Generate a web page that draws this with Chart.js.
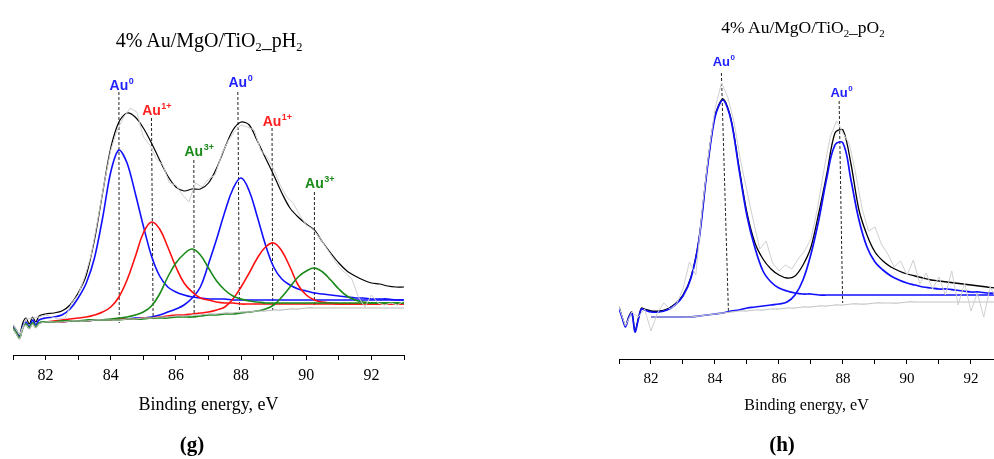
<!DOCTYPE html>
<html>
<head>
<meta charset="utf-8">
<title>Au 4f XPS</title>
<script src="https://cdn.jsdelivr.net/npm/chart.js@4.4.0/dist/chart.umd.min.js"></script>
<style>
    body {
        margin: 0;
        width: 994px;
        height: 459px;
        position: relative;
        overflow: hidden;
        background: #fff;
        font-family: "Liberation Serif", "Times New Roman", serif;
        color: #000;
    }
    canvas { position: absolute; top: 0; }
    #chartG { left: 0; }
    #chartH { left: 600px; }
    .title {
        position: absolute;
        white-space: nowrap;
        line-height: 1;
        transform: translateX(-50%);
    }
    .title sub { font-size: 0.62em; vertical-align: -0.35em; line-height: 0; }
    .tag {
        position: absolute;
        font-weight: bold;
        font-size: 21px;
        line-height: 1;
        transform: translateX(-50%);
    }
</style>
</head>
<body>
<canvas id="chartG" width="420" height="459"></canvas>
<canvas id="chartH" width="394" height="459"></canvas>

<div class="title" style="left:209px; top:30px; font-size:20px;">4% Au/MgO/TiO<sub>2</sub>_pH<sub>2</sub></div>
<div class="title" style="left:803px; top:19px; font-size:17.5px;">4% Au/MgO/TiO<sub>2</sub>_pO<sub>2</sub></div>
<div class="tag" style="left:192px; top:434px;">(g)</div>
<div class="tag" style="left:782px; top:434px;">(h)</div>

<script>
// energy grids (eV)
const energyWiggle = [81.0, 81.1, 81.2, 81.3, 81.4, 81.5, 81.6, 81.7, 81.8];
const energyFit = [82, 82.25, 82.5, 82.75, 83, 83.25, 83.5, 83.75, 84, 84.25, 84.5, 84.75,
    85, 85.25, 85.5, 85.75, 86, 86.25, 86.5, 86.75, 87, 87.25, 87.5, 87.75, 88, 88.25,
    88.5, 88.75, 89, 89.25, 89.5, 89.75, 90, 90.25, 90.5, 90.75, 91, 91.25, 91.5, 91.75,
    92, 92.25, 92.5, 92.75, 93];
const energyRaw = [81.0, 81.2, 81.4, 81.6, 81.8, 82.0, 82.2, 82.4, 82.6, 82.8, 83.0, 83.2,
    83.4, 83.6, 83.8, 84.0, 84.2, 84.4, 84.6, 84.8, 85.0, 85.2, 85.4, 85.6, 85.8, 86.0,
    86.2, 86.4, 86.6, 86.8, 87.0, 87.2, 87.4, 87.6, 87.8, 88.0, 88.2, 88.4, 88.6, 88.8,
    89.0, 89.2, 89.4, 89.6, 89.8, 90.0, 90.2, 90.4, 90.6, 90.8, 91.0, 91.2, 91.4, 91.6,
    91.8, 92.0, 92.2, 92.4, 92.6, 92.8, 93.0];

// (g) pH2 sample, intensity in arbitrary units
const gRaw = [30, 20, 36, 37, 38, 40, 38, 36, 37, 52, 60, 78, 100, 135, 172, 205, 225, 238,
    247, 243, 218, 210, 196, 190, 172, 170, 160, 153, 172, 168, 176, 180, 200, 214, 224, 230,
    228, 225, 205, 198, 186, 170, 158, 152, 140, 130, 126, 118, 108, 98, 88, 82, 76, 58, 48,
    60, 52, 50, 52, 50, 54];
const gEnvelopeWiggle = [30, 25, 20, 32, 37, 31, 38, 33, 39];
const gEnvelope = [41, 42, 44, 50, 62, 80, 115, 162, 207, 233, 242, 238, 227, 212, 195, 179,
    168, 164, 166, 166, 172, 187, 207, 225, 233, 230, 214, 197, 180, 162, 147, 138, 131, 125,
    113, 102, 92, 84, 79, 75, 72, 71, 69, 68, 68];
const gBackgroundWiggle = [26, 21, 16, 26, 30, 26, 31, 27, 31];
const gBackground = [33, 33, 33, 34, 34, 34, 35, 35, 35, 35, 36, 36, 37, 37, 38, 38, 39, 39,
    40, 40, 41, 41, 42, 42, 43, 43, 44, 44, 45, 45, 46, 46, 47, 47, 47, 47, 47, 47, 47, 47,
    47, 47, 47, 47, 47];
const gAu0aWiggle = [28, 23, 18, 29, 33, 28, 35, 30, 35];
const gAu0a = [37, 38, 40, 46, 57, 72, 97, 137, 183, 205, 192, 162, 129, 99, 79, 68, 63, 60,
    58, 57, 56, 56, 56, 55, 55, 55, 55, 55, 55, 55, 55, 55, 55, 55, 55, 55, 55, 55, 55, 55,
    55, 55, 55, 55, 55];
const gAu0b = [33, 33, 33, 34, 34, 34, 35, 35, 35, 36, 36, 37, 37, 38, 40, 43, 46, 50, 57, 68,
    91, 116, 143, 166, 177, 164, 138, 110, 88, 76, 70, 66, 64, 62, 61, 60, 59, 58, 57, 57,
    56, 56, 56, 55, 55];
const gAu1a = [33, 34, 35, 36, 37, 38, 40, 43, 48, 58, 75, 98, 122, 133, 126, 108, 88, 72, 63,
    57, 55, 53, 52, 52, 51, 51, 51, 51, 51, 51, 51, 51, 51, 51, 51, 51, 51, 51, 51, 51, 51,
    51, 51, 51, 51];
const gAu1b = [33, 33, 33, 34, 34, 34, 35, 35, 35, 36, 36, 36, 37, 37, 38, 39, 40, 40, 41, 42,
    43, 45, 48, 56, 68, 82, 97, 108, 112, 104, 88, 70, 60, 55, 53, 52, 51, 51, 51, 51, 51,
    51, 51, 51, 51];
const gAu3Wiggle = [27, 22, 17, 27, 31, 27, 32, 28, 32];
const gAu3a = [33, 33, 34, 34, 34, 35, 35, 35, 36, 37, 38, 40, 43, 49, 61, 78, 92, 101, 106,
    100, 87, 74, 65, 59, 56, 54, 53, 52, 52, 52, 52, 52, 52, 52, 52, 52, 52, 52, 52, 52, 52,
    52, 52, 52, 52];
const gAu3b = [33, 33, 34, 34, 34, 34, 35, 35, 35, 35, 36, 36, 36, 37, 37, 37, 38, 38, 38, 39,
    40, 40, 41, 41, 42, 43, 44, 46, 50, 58, 68, 78, 84, 87, 83, 75, 66, 59, 55, 53, 52, 52,
    52, 52, 52];

// (h) pO2 sample
const hRaw = [52, 33, 47, 42, 50, 28, 46, 56, 50, 55, 70, 97, 84, 150, 205, 250, 276, 262,
    236, 198, 168, 138, 110, 118, 96, 88, 94, 90, 100, 108, 120, 150, 188, 222, 238, 226,
    215, 185, 150, 128, 132, 115, 105, 92, 98, 84, 99, 75, 86, 70, 82, 64, 88, 54, 76, 48,
    66, 42, 72, 60, 60];
const hEnvelopeWiggle = [52, 42, 33, 42, 47, 28, 40, 51, 50];
const hEnvelope = [48, 48, 50, 55, 64, 82, 120, 189, 243, 260, 240, 192, 146, 116, 100, 90,
    84, 81, 83, 94, 112, 147, 186, 226, 229, 195, 149, 124, 107, 98, 92, 88, 85, 83, 81, 79,
    78, 77, 76, 75, 74, 73, 72, 71, 71];
const hAu0aWiggle = [51, 41, 32, 41, 46, 27, 39, 50, 49];
const hAu0a = [47, 47, 49, 54, 63, 81, 119, 188, 242, 259, 239, 190, 143, 111, 88, 77, 71, 68,
    66, 65, 65, 64, 64, 64, 64, 64, 64, 64, 64, 64, 64, 64, 64, 64, 64, 64, 64, 64, 64, 64,
    64, 64, 64, 64, 64];
const hAu0b = [42, 42, 42, 42, 42, 42, 43, 44, 45, 46, 48, 49, 51, 52, 53, 54, 55, 57, 64, 79,
    105, 140, 182, 214, 216, 179, 139, 112, 97, 89, 83, 79, 76, 74, 72, 71, 70, 70, 69, 68,
    67, 67, 66, 66, 66];
const hBackground = [42, 42, 42, 42, 42, 42, 43, 44, 45, 46, 47, 48, 48, 49, 49, 50, 50, 51,
    51, 52, 52, 53, 53, 54, 54, 55, 55, 55, 56, 56, 56, 56, 57, 57, 57, 57, 57, 57, 57, 57,
    57, 57, 57, 57, 57];

// peak markers: dashed drop line plus the "Au" label sitting above it
const gMarkEnergyTop = [84.25, 85.25, 86.55, 87.9, 88.95, 90.25];
const gMarkEnergyBottom = [84.26, 85.3, 86.56, 87.95, 88.97, 90.25];
const gMarkTop = [263, 237, 195, 263, 227, 163];
const gMarkBottom = [32, 37, 40, 43, 45, 48];
const gLabelLevel = [265, 240, 199, 268, 229, 167];
const gMarkCharge = ['0', '1+', '3+', '0', '1+', '3+'];

const hMarkEnergyTop = [84.2, 87.88];
const hMarkEnergyBottom = [84.42, 87.99];
const hMarkTop = [286, 258];
const hMarkBottom = [47, 56];
const hLabelLevel = [293, 262];
const hMarkCharge = ['0', '0'];

const BLUE = '#1010ff';
const RED = '#ff1010';
const GREEN = '#1a8a1a';
const CHARGE_COLORS = { '0': '#1f1fff', '1+': '#ff1f1f', '3+': '#1a8a1a' };

const SERIF = '"Liberation Serif", "Times New Roman", serif';
const SANS = '"Liberation Sans", Arial, sans-serif';

function toPoints(xs, ys) {
    return ys.map((y, i) => ({ x: xs[i], y: y }));
}

function curve(xs, ys, color, width, tension) {
    return {
        data: toPoints(xs, ys),
        borderColor: color,
        borderWidth: width,
        pointRadius: 0,
        tension: tension,
        fill: false
    };
}

function markerLines(eTop, eBottom, top, bottom) {
    return top.map((t, i) => ({
        data: [{ x: eTop[i], y: t }, { x: eBottom[i], y: bottom[i] }],
        borderColor: '#222',
        borderWidth: 1,
        borderDash: [3, 2],
        pointRadius: 0,
        tension: 0
    }));
}

// draws the "Au" oxidation-state labels above each drop line
const auLabels = {
    id: 'auLabels',
    afterDatasetsDraw(chart, args, opts) {
        const ctx = chart.ctx;
        const xs = chart.scales.x;
        const ys = chart.scales.y;
        ctx.save();
        opts.energy.forEach((e, i) => {
            const px = xs.getPixelForValue(e);
            const py = ys.getPixelForValue(opts.level[i]);
            ctx.fillStyle = CHARGE_COLORS[opts.charge[i]];
            ctx.font = `bold ${opts.size}px ${SANS}`;
            ctx.textAlign = 'center';
            ctx.textBaseline = 'alphabetic';
            const w = ctx.measureText('Au').width;
            ctx.fillText('Au', px, py);
            ctx.font = `bold ${Math.round(opts.size * 0.62)}px ${SANS}`;
            ctx.textAlign = 'left';
            ctx.fillText(opts.charge[i], px + w / 2 + 0.5, py - opts.size * 0.45);
        });
        ctx.restore();
    }
};

function buildChart(canvasId, cfg) {
    const ctx = document.getElementById(canvasId).getContext('2d');
    return new Chart(ctx, {
        type: 'line',
        data: { datasets: cfg.datasets },
        plugins: [auLabels],
        options: {
            responsive: false,
            animation: false,
            events: [],
            layout: { padding: cfg.padding },
            plugins: {
                legend: { display: false },
                tooltip: { enabled: false },
                auLabels: cfg.labels
            },
            scales: {
                x: {
                    type: 'linear',
                    min: 81,
                    max: cfg.xMax,
                    afterFit: (scale) => { scale.height = 70; },
                    grid: {
                        drawOnChartArea: false,
                        tickLength: 5,
                        color: '#000',
                        tickColor: '#000'
                    },
                    border: { color: '#000', width: 1 },
                    ticks: {
                        stepSize: 1,
                        includeBounds: false,
                        autoSkip: false,
                        maxRotation: 0,
                        padding: 6,
                        color: '#000',
                        font: { family: SERIF, size: cfg.tickSize },
                        callback: (v) => (v % 2 === 0 ? v : '')
                    },
                    title: {
                        display: true,
                        text: 'Binding energy, eV',
                        color: '#000',
                        font: { family: SERIF, size: cfg.titleSize },
                        padding: { top: 0, bottom: cfg.titlePad }
                    }
                },
                y: { display: false, min: 0, max: 300 }
            }
        }
    });
}

const energyFull = energyWiggle.concat(energyFit);

buildChart('chartG', {
    xMax: 93,
    padding: { left: 13, right: 16, top: 55, bottom: 34 },
    tickSize: 16,
    titleSize: 18,
    titlePad: 9,
    labels: { energy: gMarkEnergyTop, level: gLabelLevel, charge: gMarkCharge, size: 14 },
    datasets: [
        curve(energyRaw, gRaw, '#cfcfcf', 1, 0),
        curve(energyFull, gBackgroundWiggle.concat(gBackground), '#b8b8b8', 1.2, 0.3),
        curve(energyFull, gAu3Wiggle.concat(gAu3a), GREEN, 1.6, 0.4),
        curve(energyFull, gAu3Wiggle.concat(gAu3b), GREEN, 1.6, 0.4),
        curve(energyFit, gAu1a, RED, 1.6, 0.4),
        curve(energyFit, gAu1b, RED, 1.6, 0.4),
        curve(energyFit, gAu0b, BLUE, 1.6, 0.4),
        curve(energyFull, gAu0aWiggle.concat(gAu0a), BLUE, 1.6, 0.3),
        curve(energyFull, gEnvelopeWiggle.concat(gEnvelope), '#000', 1.2, 0.3)
    ].concat(markerLines(gMarkEnergyTop, gMarkEnergyBottom, gMarkTop, gMarkBottom))
});

buildChart('chartH', {
    xMax: 92.72,
    padding: { left: 19, right: 0, top: 59, bottom: 30 },
    tickSize: 15,
    titleSize: 16,
    titlePad: 14,
    labels: { energy: hMarkEnergyTop, level: hLabelLevel, charge: hMarkCharge, size: 13 },
    datasets: [
        curve(energyRaw, hRaw, '#cfcfcf', 1, 0),
        curve(energyFit, hBackground, '#c4c4c4', 1.2, 0.4),
        curve(energyFit, hAu0b, BLUE, 1.7, 0.4),
        curve(energyFull, hAu0aWiggle.concat(hAu0a), BLUE, 1.7, 0.3),
        curve(energyFull, hEnvelopeWiggle.concat(hEnvelope), '#000', 1.3, 0.3)
    ].concat(markerLines(hMarkEnergyTop, hMarkEnergyBottom, hMarkTop, hMarkBottom))
});
</script>
</body>
</html>
